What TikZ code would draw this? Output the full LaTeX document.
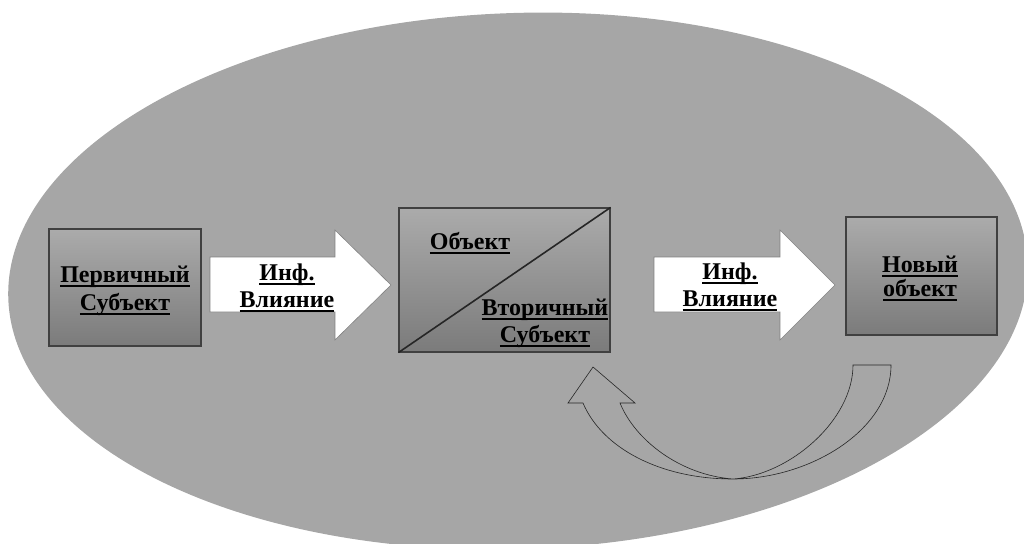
\documentclass[tikz,border=0pt]{standalone}
\usepackage{fontspec}
\setmainfont{Liberation Serif}
\newsavebox{\myulbox}
\newcommand{\myul}[1]{\sbox{\myulbox}{#1}\rlap{\usebox{\myulbox}}\rule[-4.5pt]{\wd\myulbox}{1.5pt}}
\definecolor{ellcol}{HTML}{A6A6A6}
\definecolor{boxtop}{HTML}{ABABAB}
\definecolor{boxbot}{HTML}{7B7B7B}
\begin{document}
\begin{tikzpicture}[x=1pt,y=-1pt,
  lbl/.style={font=\bfseries\fontsize{24}{28}\selectfont, inner sep=0pt, anchor=base},
  boxsh/.style={draw=black!75, line width=1.1pt, top color=boxtop, bottom color=boxbot, inner sep=0pt},
  blockarrow/.style={fill=white, draw=black!50, line width=0.6pt},
  looparrow/.style={draw=black!85, line width=0.6pt}]
\useasboundingbox (0,0) rectangle (1024,543);
% background ellipse
\fill[ellcol, rotate around={2:(518,281)}] (518,281) ellipse [x radius=510, y radius=268];
% boxes
\node[boxsh, minimum width=152pt, minimum height=117pt] (p1) at (125,287.5) {};
\node[boxsh, minimum width=211pt, minimum height=144pt] (mid) at (504.5,280) {};
\draw[line width=1.6pt, black!85] (mid.south west) -- (mid.north east);
\node[boxsh, minimum width=151pt, minimum height=118pt] (nw) at (921.5,276) {};
% block arrows
\draw[blockarrow] (210,257) -- (335,257) -- (335,230) -- (391,285) -- (335,340) -- (335,312) -- (210,312) -- cycle;
\draw[blockarrow] (654,257) -- (780,257) -- (780,230) -- (835,285) -- (780,340) -- (780,312) -- (654,312) -- cycle;
% curved return arrow
\draw[looparrow, line join=miter]
  (891,365) -- (853,365)
  .. controls (853,420) and (790,475) .. (733,479)
  .. controls (680,475) and (635,440) .. (620,403)
  -- (635,403) -- (593,367) -- (568,403) -- (583,403)
  .. controls (602,448) and (660,479) .. (733,479)
  .. controls (810,479) and (891,430) .. (891,365) -- cycle;
% texts
\node[lbl] (t1a) at (125,282) {\myul{Первичный}};
\node[lbl] (t1b) at (125,310) {\myul{Субъект}};
\node[lbl] (t2a) at (287,280) {\myul{Инф.}};
\node[lbl] (t2b) at (287,307) {\myul{Влияние}};
\node[lbl] (t3a) at (470,249) {\myul{Объект}};
\node[lbl] (t3b) at (545,315) {\myul{Вторичный}};
\node[lbl] (t3c) at (545,342) {\myul{Субъект}};
\node[lbl] (t4a) at (730,279) {\myul{Инф.}};
\node[lbl] (t4b) at (730,306) {\myul{Влияние}};
\node[lbl] (t5a) at (920,272) {\myul{Новый}};
\node[lbl] (t5b) at (920,296) {\myul{объект}};
\end{tikzpicture}
\end{document}
